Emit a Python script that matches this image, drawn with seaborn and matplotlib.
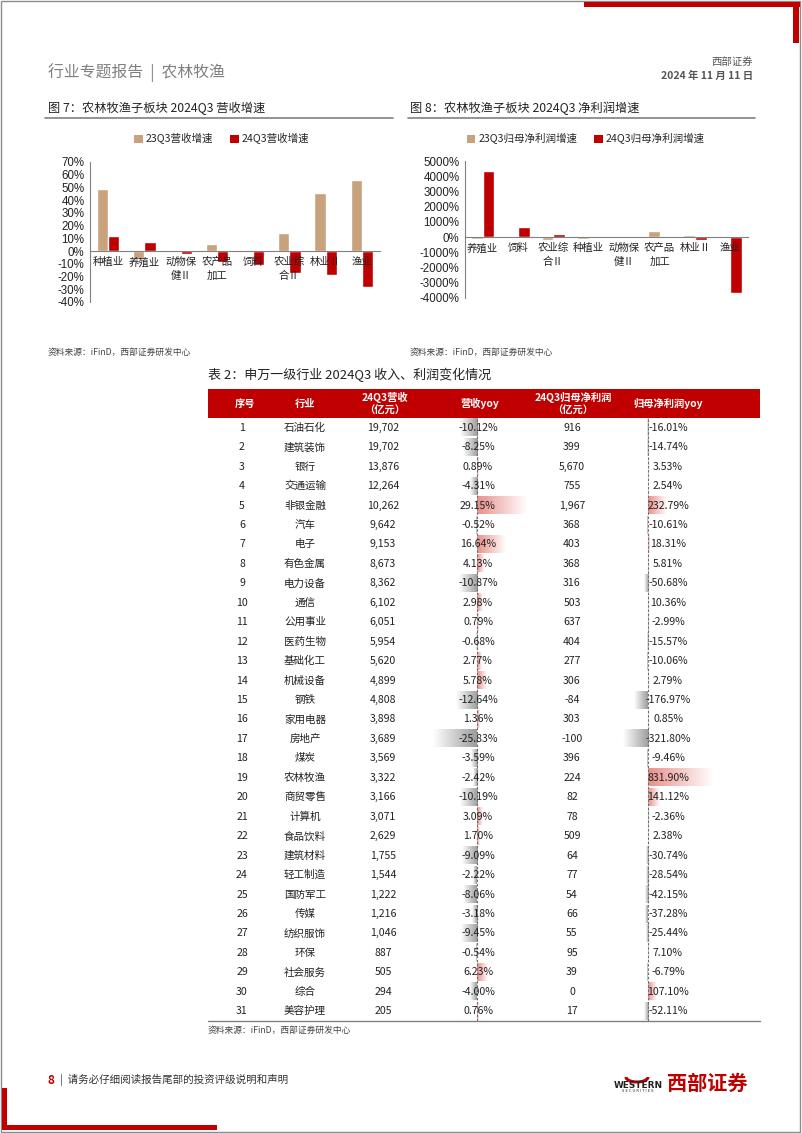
import numpy as np
import pandas as pd
import matplotlib
matplotlib.use("Agg")
import matplotlib.pyplot as plt
import matplotlib.transforms as mtransforms
import seaborn as sns
from matplotlib.patches import Rectangle, Patch, Arc
from matplotlib.colors import LinearSegmentedColormap

# ---------------- data ----------------
rev_categories = ['种植业', '养殖业', '动物保健Ⅱ', '农产品加工', '饲料', '农业综合Ⅱ', '林业Ⅱ', '渔业']
rev_ticklabels = ['种植业', '养殖业', '动物保\n健Ⅱ', '农产品\n加工', '饲料', '农业综\n合Ⅱ', '林业Ⅱ', '渔业']
rev_series = ['23Q3营收增速', '24Q3营收增速']
rev_23q3 = [48.5, -6.0, -0.5, 5.2, 0.3, 14.0, 45.5, 55.8]
rev_24q3 = [11.5, 7.3, -2.0, -8.4, -11.0, -17.0, -18.6, -28.0]
rev_yticks = list(range(-40, 71, 10))

np_categories = ['养殖业', '饲料', '农业综合Ⅱ', '种植业', '动物保健Ⅱ', '农产品加工', '林业Ⅱ', '渔业']
np_ticklabels = ['养殖业', '饲料', '农业综\n合Ⅱ', '种植业', '动物保\n健Ⅱ', '农产品\n加工', '林业Ⅱ', '渔业']
np_series = ['23Q3归母净利润增速', '24Q3归母净利润增速']
np_23q3 = [-110, -60, -220, -130, -40, 410, 150, -90]
np_24q3 = [4375, 657, 200, 60, 60, 70, -220, -3680]
np_yticks = list(range(-4000, 5001, 1000))

tbl_headers = ['序号', '行业', '24Q3营收\n（亿元）', '营收yoy', '24Q3归母净利润\n（亿元）', '归母净利润yoy']
tbl_no = list(range(1, 32))
tbl_industry = ['石油石化', '建筑装饰', '银行', '交通运输', '非银金融', '汽车', '电子', '有色金属',
                '电力设备', '通信', '公用事业', '医药生物', '基础化工', '机械设备', '钢铁', '家用电器',
                '房地产', '煤炭', '农林牧渔', '商贸零售', '计算机', '食品饮料', '建筑材料', '轻工制造',
                '国防军工', '传媒', '纺织服饰', '环保', '社会服务', '综合', '美容护理']
tbl_revenue = [19702, 19702, 13876, 12264, 10262, 9642, 9153, 8673, 8362, 6102, 6051, 5954, 5620,
               4899, 4808, 3898, 3689, 3569, 3322, 3166, 3071, 2629, 1755, 1544, 1222, 1216, 1046,
               887, 505, 294, 205]
tbl_rev_yoy = [-10.12, -8.25, 0.89, -4.31, 29.15, -0.52, 16.64, 4.13, -10.87, 2.98, 0.79, -0.68,
               2.77, 5.78, -12.64, 1.36, -25.83, -3.59, -2.42, -10.19, 3.09, 1.70, -9.09, -2.22,
               -8.06, -3.18, -9.45, -0.54, 6.23, -4.00, 0.76]
tbl_profit = [916, 399, 5670, 755, 1967, 368, 403, 368, 316, 503, 637, 404, 277, 306, -84, 303,
              -100, 396, 224, 82, 78, 509, 64, 77, 54, 66, 55, 95, 39, 0, 17]
tbl_profit_yoy = [-16.01, -14.74, 3.53, 2.54, 232.79, -10.61, 18.31, 5.81, -50.68, 10.36, -2.99,
                  -15.57, -10.06, 2.79, -176.97, 0.85, -321.80, -9.46, 831.90, 141.12, -2.36, 2.38,
                  -30.74, -28.54, -42.15, -37.28, -25.44, 7.10, -6.79, 107.10, -52.11]

# ---------------- style ----------------
sns.set_style("white")
plt.rcParams['font.family'] = ['Noto Sans CJK SC', 'DejaVu Sans']
plt.rcParams['axes.unicode_minus'] = False

RED = '#C00000'
TAN = '#C8A27C'
GREY = '#808080'
W, H = 802, 1133

fig = plt.figure(figsize=(W / 100, H / 100), dpi=100)


def rect(x0, y0, x1, y1):
    return [x0 / W, 1 - y1 / H, (x1 - x0) / W, (y1 - y0) / H]


page = fig.add_axes([0, 0, 1, 1])
page.set_xlim(0, W)
page.set_ylim(H, 0)
page.axis('off')

# page frame and decorations
page.add_patch(Rectangle((0.5, 0.5), W - 2.5, H - 2, fill=False, edgecolor='#8c8c8c', lw=1.0))
page.add_patch(Rectangle((584, 2), 216, 5, color=RED, lw=0))
page.add_patch(Rectangle((793, 2), 6, 41, color=RED, lw=0))
page.add_patch(Rectangle((2, 1088), 5, 42, color=RED, lw=0))
page.add_patch(Rectangle((2, 1125), 215, 5, color=RED, lw=0))

page.text(48, 73, '行业专题报告  |  农林牧渔', fontsize=11.4, color='#808080', va='center', ha='left')
page.text(753, 62, '西部证券', fontsize=7.5, color='#555555', va='center', ha='right')
page.text(753, 76, '2024 年 11 月 11 日', fontsize=7.5, color='#555555', va='center', ha='right',
          fontweight='bold')

page.text(48, 108, '图 7：农林牧渔子板块 2024Q3 营收增速', fontsize=8.8, color='#222222', va='center')
page.text(410, 108, '图 8：农林牧渔子板块 2024Q3 净利润增速', fontsize=8.8, color='#222222', va='center')
page.plot([45, 393], [118, 118], color=GREY, lw=1.2)
page.plot([408, 755], [118, 118], color=GREY, lw=1.2)

page.text(48, 352, '资料来源：iFinD，西部证券研发中心', fontsize=6.3, color='#444444', va='center')
page.text(410, 352, '资料来源：iFinD，西部证券研发中心', fontsize=6.3, color='#444444', va='center')
page.text(208, 375, '表 2：申万一级行业 2024Q3 收入、利润变化情况', fontsize=9.4, color='#222222', va='center')
page.text(208, 1030, '资料来源：iFinD，西部证券研发中心', fontsize=6.3, color='#444444', va='center')

page.text(48, 1080, '8', fontsize=8.5, color=RED, fontweight='bold', va='center')
page.text(60, 1080, '|  请务必仔细阅读报告尾部的投资评级说明和声明', fontsize=7.6, color='#333333', va='center')

# logo
page.add_patch(Arc((637, 1077), 22, 10, theta1=0, theta2=180, color=RED, lw=2.2))
page.text(638, 1085, 'WESTERN', fontsize=6.4, fontweight='bold', color='#222222', ha='center', va='center',
          family='DejaVu Sans')
page.text(638, 1091.5, 'S E C U R I T I E S', fontsize=2.6, color='#222222', ha='center', va='center',
          family='DejaVu Sans')
page.text(667, 1083, '西部证券', fontsize=14.5, fontweight='bold', color=RED, ha='left', va='center')


# ---------------- bar charts ----------------
def draw_chart(ax, cats, labels, series, s1, s2, yticks, ylim, width):
    df = pd.DataFrame({'cat': cats * 2,
                       'series': [series[0]] * len(cats) + [series[1]] * len(cats),
                       'val': list(s1) + list(s2)})
    sns.barplot(data=df, x='cat', y='val', hue='series', order=cats, hue_order=series,
                palette=[TAN, RED], width=width, saturation=1, ax=ax, legend=False)
    ax.set_ylim(*ylim)
    ax.set_xlim(-0.5, len(cats) - 0.5)
    ax.set_yticks(yticks)
    ax.set_yticklabels([f'{v}%' for v in yticks], fontsize=8.3, family='Liberation Sans', color='#222222')
    # category boundaries as small ticks on the zero line; category names as text below it
    ax.set_xticks(np.arange(-0.5, len(cats), 1.0))
    ax.set_xticklabels([])
    ax.tick_params(axis='x', which='major', length=3, color=GREY, direction='out')
    ax.tick_params(axis='y', length=2, color=GREY, pad=2)
    below = mtransforms.offset_copy(ax.transData, fig=fig, x=0, y=-6, units='dots')
    for i, lab in enumerate(labels):
        ax.text(i, 0, lab, transform=below, ha='center', va='top', fontsize=7.5,
                color='#222222', linespacing=1.45, clip_on=False, zorder=5)
    ax.set_xlabel('')
    ax.set_ylabel('')
    ax.spines['top'].set_visible(False)
    ax.spines['right'].set_visible(False)
    ax.spines['left'].set_color(GREY)
    ax.spines['bottom'].set_color(GREY)
    ax.spines['bottom'].set_position(('data', 0))
    ax.set_facecolor('none')
    ax.grid(False)


ax1 = fig.add_axes(rect(90, 162, 380, 302))
draw_chart(ax1, rev_categories, rev_ticklabels, rev_series, rev_23q3, rev_24q3, rev_yticks, (-40, 70), 0.62)
ax2 = fig.add_axes(rect(465, 161, 748, 298))
draw_chart(ax2, np_categories, np_ticklabels, np_series, np_23q3, np_24q3, np_yticks, (-4000, 5000), 0.66)

for series, cx in ((rev_series, 222), (np_series, 586)):
    handles = [Patch(facecolor=TAN, edgecolor='none'), Patch(facecolor=RED, edgecolor='none')]
    fig.legend(handles, series, loc='center', bbox_to_anchor=(cx / W, 1 - 139 / H), ncol=2,
               frameon=False, fontsize=7.6, handlelength=0.8, handleheight=0.8,
               handletextpad=0.3, columnspacing=1.6)

# ---------------- table ----------------
TX0, TX1 = 208, 760
HEAD_TOP, ROW_TOP, ROW_H = 389, 418, 19.45
N = len(tbl_no)
ROW_BOT = ROW_TOP + N * ROW_H

page.add_patch(Rectangle((TX0, HEAD_TOP), TX1 - TX0, ROW_TOP - HEAD_TOP, color=RED, lw=0))
col_x = [242, 305, 383, 478, 572, 668]
head_x = [245, 305, 385, 480, 573, 668]
for hx, ht in zip(head_x, tbl_headers):
    page.text(hx, (HEAD_TOP + ROW_TOP) / 2, ht, fontsize=7.4, color='white', fontweight='bold',
              ha='center', va='center', linespacing=1.25)
page.plot([TX0, TX1], [ROW_BOT, ROW_BOT], color='#7f7f7f', lw=1.0)

for i in range(N):
    y = ROW_TOP + (i + 0.5) * ROW_H
    page.text(col_x[0], y, str(tbl_no[i]), fontsize=7.6, ha='center', va='center', color='#222222')
    page.text(col_x[1], y, tbl_industry[i], fontsize=7.6, ha='center', va='center', color='#222222')
    page.text(col_x[2], y, f'{tbl_revenue[i]:,}', fontsize=7.6, ha='center', va='center', color='#222222')
    page.text(col_x[4], y, f'{tbl_profit[i]:,}', fontsize=7.6, ha='center', va='center', color='#222222')


def data_bars(zero_px, left_px, right_px, px_per_unit, values, text_x, pos_col, neg_col):
    ax = fig.add_axes(rect(left_px, ROW_TOP, right_px, ROW_BOT))
    df = pd.DataFrame({'row': [str(n) for n in tbl_no], 'val': values})
    sns.barplot(data=df, x='val', y='row', orient='h', color='white', width=0.88,
                saturation=1, ax=ax, legend=False)
    pos_cmap = LinearSegmentedColormap.from_list('pos', ['white', pos_col])
    neg_cmap = LinearSegmentedColormap.from_list('neg', ['white', neg_col])
    for p, v in zip(ax.patches, values):
        p.set_facecolor('none')
        p.set_edgecolor('none')
        y0, h = p.get_y(), p.get_height()
        if v >= 0:
            grad = np.linspace(1.0, 0.0, 256).reshape(1, -1)
            cmap = pos_cmap
            ext = (0, v, y0 + h, y0)
        else:
            grad = np.linspace(0.0, 1.0, 256).reshape(1, -1)
            cmap = neg_cmap
            ext = (v, 0, y0 + h, y0)
        ax.imshow(grad, cmap=cmap, vmin=0, vmax=1, extent=ext, aspect='auto',
                  interpolation='bilinear', zorder=1)
    ax.axvline(0, color='#6f6f6f', lw=0.8, ls=(0, (2.2, 1.6)), zorder=2)
    ax.set_xlim((left_px - zero_px) / px_per_unit, (right_px - zero_px) / px_per_unit)
    ax.set_ylim(N - 0.5, -0.5)
    ax.axis('off')
    for i, v in enumerate(values):
        y = ROW_TOP + (i + 0.5) * ROW_H
        ax.text(text_x, y, f'{v:.2f}%', transform=page.transData, fontsize=7.6, ha='center',
                va='center', color='#222222', zorder=3)
    return ax


data_bars(477, 425, 535, 1.7, tbl_rev_yoy, 478, '#E8908A', '#9C9C9C')
data_bars(648, 610, 722, 0.079, tbl_profit_yoy, 668, '#E8908A', '#9C9C9C')

fig.savefig('out.png', dpi=100)
